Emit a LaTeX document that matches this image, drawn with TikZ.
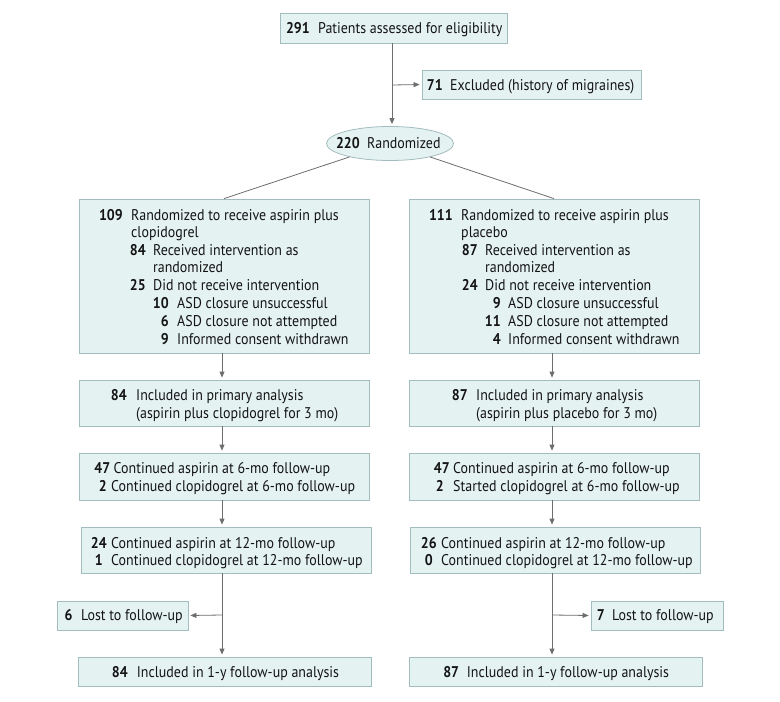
\documentclass[tikz,border=0pt]{standalone}
\usepackage{fontspec}
\setmainfont[FakeStretch=0.9]{PT Sans}
\usetikzlibrary{shapes.geometric,arrows.meta}
\definecolor{boxfill}{HTML}{E5F2F2}
\definecolor{boxline}{HTML}{A3BCBE}
\definecolor{arrgray}{HTML}{6E6E6E}
\definecolor{txtcol}{HTML}{141414}
\newcommand{\rw}[6]{%
  \node[numsty, anchor=base east] (#1n) at (#2,{#4+5.5}) {#5};
  \node[txtsty, anchor=base west] (#1t) at (#3,{#4+5.5}) {#6};}
\newcommand{\rc}[4]{%
  \node[txtsty, anchor=base west] (#1) at (#2,{#3+5.5}) {#4};}
\begin{document}
\begin{tikzpicture}[x=1pt,y=-1pt,
  box/.style={draw=boxline, fill=boxfill, line width=0.8pt, inner sep=0pt},
  numsty/.style={inner sep=0pt, text=txtcol, font=\fontsize{15.5}{18}\selectfont\bfseries},
  txtsty/.style={inner sep=0pt, text=txtcol, font=\fontsize{15.5}{18}\selectfont},
  ln/.style={draw=arrgray, line width=0.8pt},
  arr/.style={draw=arrgray, line width=0.8pt, -{Triangle[length=6pt,width=5pt]}, shorten >=2pt}]
\fill[white] (0,0) rectangle (780,702);
\useasboundingbox (0,0) rectangle (780,702);
% boxes
\node[box, minimum width=227pt, minimum height=30pt] (top) at (393.5,28) {};
\node[box, minimum width=219pt, minimum height=29pt] (excl) at (531.5,84.5) {};
\node[box, ellipse, minimum width=127pt, minimum height=34pt] (rand) at (390,143.5) {};
\node[box, minimum width=290pt, minimum height=154pt] (L1) at (224,276) {};
\node[box, minimum width=290pt, minimum height=154pt] (R1) at (554,276) {};
\node[box, minimum width=290pt, minimum height=46pt] (L2) at (224,403) {};
\node[box, minimum width=290pt, minimum height=46pt] (R2) at (554,403) {};
\node[box, minimum width=290pt, minimum height=47pt] (L3) at (224,476.5) {};
\node[box, minimum width=290pt, minimum height=47pt] (R3) at (554,476.5) {};
\node[box, minimum width=290pt, minimum height=46pt] (L4) at (226,550) {};
\node[box, minimum width=290pt, minimum height=46pt] (R4) at (555,550) {};
\node[box, minimum width=131pt, minimum height=29pt] (Llost) at (122.5,615.5) {};
\node[box, minimum width=132pt, minimum height=29pt] (Rlost) at (657,615.5) {};
\node[box, minimum width=293pt, minimum height=29pt] (L5) at (224.5,671.5) {};
\node[box, minimum width=293pt, minimum height=29pt] (R5) at (555.5,671.5) {};
% texts
\rw{ta}{310}{318}{28}{291}{Patients assessed for eligibility}
\rw{ea}{443}{450}{85}{71}{Excluded (history of migraines)}
\rw{ra}{360}{367}{143}{220}{Randomized}
% L1
\rw{la1}{123}{131}{215}{109}{Randomized to receive aspirin plus}
\rc{la2}{131}{232}{clopidogrel}
\rw{la3}{146}{153}{250}{84}{Received intervention as}
\rc{la4}{153}{267}{randomized}
\rw{la5}{146}{153}{285}{25}{Did not receive intervention}
\rw{la6}{169}{177}{303}{10}{ASD closure unsuccessful}
\rw{la7}{169}{177}{321}{6}{ASD closure not attempted}
\rw{la8}{169}{177}{339}{9}{Informed consent withdrawn}
% R1
\rw{ra1}{453}{461}{215}{111}{Randomized to receive aspirin plus}
\rc{ra2}{461}{232}{placebo}
\rw{ra3}{478}{485}{250}{87}{Received intervention as}
\rc{ra4}{485}{267}{randomized}
\rw{ra5}{478}{485}{285}{24}{Did not receive intervention}
\rw{ra6}{501}{508}{303}{9}{ASD closure unsuccessful}
\rw{ra7}{501}{508}{321}{11}{ASD closure not attempted}
\rw{ra8}{501}{508}{339}{4}{Informed consent withdrawn}
% L2 R2
\rw{lb1}{127}{136}{395}{84}{Included in primary analysis}
\rc{lb2}{136}{413}{(aspirin plus clopidogrel for 3 mo)}
\rw{rb1}{468}{476}{395}{87}{Included in primary analysis}
\rc{rb2}{476}{413}{(aspirin plus placebo for 3 mo)}
% L3 R3
\rw{lc1}{110.5}{113.5}{468}{47}{Continued aspirin at 6-mo follow-up}
\rw{lc2}{107}{111}{486}{2}{Continued clopidogrel at 6-mo follow-up}
\rw{rc1}{450}{453}{468}{47}{Continued aspirin at 6-mo follow-up}
\rw{rc2}{444}{453}{486}{2}{Started clopidogrel at 6-mo follow-up}
% L4 R4
\rw{ld1}{107}{111}{543}{24}{Continued aspirin at 12-mo follow-up}
\rw{ld2}{103}{111}{560}{1}{Continued clopidogrel at 12-mo follow-up}
\rw{rd1}{437}{441}{543}{26}{Continued aspirin at 12-mo follow-up}
\rw{rd2}{433}{441}{560}{0}{Continued clopidogrel at 12-mo follow-up}
% lost
\rw{le1}{72.7}{81}{615}{6}{Lost to follow-up}
\rw{re1}{605}{612}{615}{7}{Lost to follow-up}
% final
\rw{lf1}{128}{136.7}{672}{84}{Included in 1-y follow-up analysis}
\rw{rf1}{459.3}{466.7}{672}{87}{Included in 1-y follow-up analysis}
% connectors
\coordinate (tb) at (392,85);
\coordinate (lb) at (222,615);
\coordinate (rb) at (552,615);
\draw[arr] (top.south -| tb) -- (rand.north -| tb);
\draw[arr] (tb) -- (excl.west);
\draw[ln] (rand) -- (L1.north);
\draw[ln] (rand) -- (R1.north);
\draw[arr] (L1.south -| lb) -- (L2.north -| lb);
\draw[arr] (R1.south -| rb) -- (R2.north -| rb);
\draw[arr] (L2.south -| lb) -- (L3.north -| lb);
\draw[arr] (R2.south -| rb) -- (R3.north -| rb);
\draw[arr] (L3.south -| lb) -- (L4.north -| lb);
\draw[arr] (R3.south -| rb) -- (R4.north -| rb);
\draw[arr] (L4.south -| lb) -- (L5.north -| lb);
\draw[arr] (R4.south -| rb) -- (R5.north -| rb);
\draw[arr] (lb) -- (Llost.east);
\draw[arr] (rb) -- (Rlost.west);
\end{tikzpicture}
\end{document}
